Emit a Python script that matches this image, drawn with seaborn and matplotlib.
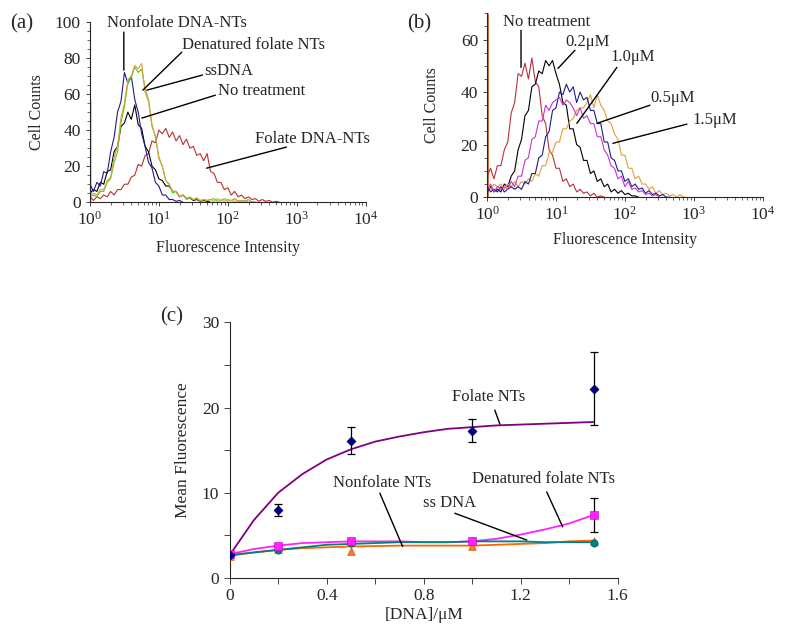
import numpy as np
import pandas as pd
import matplotlib
matplotlib.use("Agg")
import matplotlib.pyplot as plt
import seaborn as sns
from matplotlib.ticker import LogLocator, LogFormatterMathtext, MultipleLocator, NullFormatter

# ---------------- data ----------------
# histogram bins, log10(fluorescence) in 0.05 steps
log_bins = np.round(np.arange(0, 3.0, 0.05), 2)

# (a) cell counts per bin
a_nonfolate = [10, 6, 11, 9, 17, 16, 28, 36, 50, 56, 72, 66, 70, 57, 50, 38, 31, 22, 19, 11,
               9, 4, 4, 1.5, 1.5, 0.5, 1, 0]
a_notreat = [5, 7, 6, 11, 10, 17, 18, 28, 31, 42, 44, 50, 46, 54, 43, 41, 31, 28, 20, 18,
             13, 12, 9, 9, 6, 6, 3, 4, 2, 2.5, 1, 1.5, 0.5, 1, 0.5, 0]
a_denatured = [4, 5, 4, 7, 7, 12, 14, 25, 31, 47, 55, 68, 70, 76, 74, 77, 61, 56, 42, 37,
               24, 20, 12, 10, 6, 6, 3, 4, 2, 3, 1.5, 2.5, 1, 1.5, 1, 1.5, 0.5, 2, 1, 0.5,
               1.5, 1, 0.5, 1, 0.5, 1, 0, 0.5, 0]
a_ssdna = [3, 4, 3, 6, 6, 11, 13, 22, 28, 44, 53, 66, 69, 75, 72, 74, 63, 57, 43, 36,
           25, 20, 12, 10, 5, 6, 3, 4, 1.5, 2.5, 1.5, 2, 0.5, 1.5, 1, 1.5, 2, 0.5, 1, 2,
           0.5, 1, 2, 0.5, 1, 0.5, 1.5, 0, 0]
a_folate = [3, 1, 3, 2, 4, 3, 6, 4, 7, 7, 10, 10, 14, 15, 21, 20, 26, 27, 34, 33,
            40, 38, 41, 36, 39, 34, 37, 32, 35, 30, 31, 26, 27, 23, 27, 17, 16, 11, 11, 7,
            8, 4, 6, 3, 4, 2, 3, 1.5, 2, 0.5, 1.5, 0.5, 1, 0, 0.5, 0]
a_spikes = {"orange": 100, "red": 57}

# (b) cell counts per bin
b_notreat = [8, 11, 7, 12, 12, 18, 21, 32, 36, 47, 46, 51, 45, 53, 44, 42, 31, 28, 18, 16,
             11, 11, 6, 7, 4, 5, 2, 3, 1.5, 2, 0.5, 1.5, 0, 0.5, 0]
b_02 = [2, 4, 2, 3, 2, 5, 4, 8, 10, 18, 22, 31, 33, 42, 43, 48, 47, 52, 50, 52,
        47, 43, 36, 35, 26, 26, 20, 19, 14, 14, 9, 10, 6, 7, 4, 5, 2, 3, 1.5, 2.5,
        1, 1.5, 0.5, 0.5, 0]
b_05 = [4, 2, 3, 2, 4, 2, 3, 4, 3, 4, 3, 6, 5, 9, 9, 15, 16, 23, 25, 33,
        34, 40, 39, 43, 40, 42, 36, 40, 37, 38, 33, 33, 28, 28, 21, 21, 15, 14, 10, 10,
        6, 7, 4, 5, 3, 3.5, 1.5, 2.5, 1, 1.5, 0.5, 1, 0, 0]
b_10 = [3, 5, 2, 4, 3, 4, 3, 6, 4, 8, 8, 14, 15, 22, 23, 29, 29, 35, 33, 36,
        37, 38, 35, 37, 36, 34, 31, 34, 30, 31, 28, 28, 23, 23, 18, 16, 12, 11, 7, 8,
        4, 6, 3, 3.5, 2, 2.5, 1, 1.5, 0.5, 1, 0]
b_15 = [5, 3, 5, 4, 5, 3, 5, 4, 6, 4, 6, 5, 7, 6, 9, 8, 12, 12, 17, 17,
        21, 21, 26, 26, 29, 30, 33, 34, 34, 36, 39, 34, 39, 35, 33, 29, 28, 24, 22, 16,
        16, 11, 11, 7, 8, 5, 5, 3, 4, 1.5, 2.5, 1, 1.5, 0.5, 1, 0, 1, 0, 0]
b_spike = 70

# (c) mean fluorescence vs DNA concentration
conc = [0, 0.2, 0.5, 1.0, 1.5]
folate_mean = [2.7, 8.0, 16.1, 17.3, 22.2]
folate_err = [0, 0.7, 1.6, 1.35, 4.3]
denat_mean = [2.8, 3.8, 4.3, 4.3, 7.4]
denat_err = [0, 0, 0, 0, 2.0]
ssdna_mean = [2.7, 3.3, 4.1, 4.3, 4.1]
nonfol_mean = [2.6, 3.4, 3.2, 3.8, 4.4]

# fitted curves
fit_x = [0, 0.1, 0.2, 0.3, 0.4, 0.5, 0.6, 0.7, 0.8, 0.9, 1.0, 1.1, 1.2, 1.3, 1.4, 1.5]
fit_folate = [2.7, 6.8, 10.0, 12.2, 13.9, 15.1, 16.0, 16.6, 17.1, 17.5, 17.7, 17.9, 18.0, 18.1, 18.2, 18.3]
fit_denat = [2.8, 3.4, 3.8, 4.1, 4.2, 4.3, 4.3, 4.3, 4.2, 4.2, 4.3, 4.6, 5.1, 5.7, 6.4, 7.4]
fit_ssdna = [2.7, 3.0, 3.3, 3.6, 3.9, 4.0, 4.1, 4.2, 4.2, 4.2, 4.3, 4.3, 4.3, 4.2, 4.2, 4.2]
fit_nonfol = [2.6, 3.0, 3.3, 3.5, 3.6, 3.7, 3.75, 3.8, 3.8, 3.8, 3.8, 3.9, 4.0, 4.1, 4.3, 4.4]

# ---------------- style ----------------
sns.set_style("ticks")
plt.rcParams["font.family"] = ["Liberation Serif", "DejaVu Serif"]
plt.rcParams["mathtext.fontset"] = "stix"
plt.rcParams["axes.linewidth"] = 0.8

fig = plt.figure(figsize=(7.92, 6.3), dpi=100)
ax_a = fig.add_axes([0.1136, 0.679, 0.348, 0.286])
ax_b = fig.add_axes([0.615, 0.687, 0.348, 0.292])
ax_c = fig.add_axes([0.290, 0.0825, 0.490, 0.406])

FS = 12
line_kw = dict(arrowstyle="-", color="black", lw=1.0, shrinkA=0, shrinkB=0)


def hist_curve(ax, counts, color):
    df = pd.DataFrame({"x": 10 ** log_bins[:len(counts)], "y": counts})
    sns.lineplot(data=df, x="x", y="y", ax=ax, color=color, lw=0.8,
                 estimator=None, sort=False)


def style_hist(ax, ymax, ystep, ylab_x, xlab_y):
    ax.set_xscale("log")
    ax.set_xlim(1, 1e4)
    ax.set_ylim(0, ymax)
    ax.xaxis.set_major_locator(LogLocator(base=10, numticks=10))
    ax.xaxis.set_major_formatter(LogFormatterMathtext())
    ax.xaxis.set_minor_locator(LogLocator(base=10, subs=np.arange(2, 10), numticks=10))
    ax.xaxis.set_minor_formatter(NullFormatter())
    ax.yaxis.set_major_locator(MultipleLocator(ystep))
    ax.yaxis.set_minor_locator(MultipleLocator(ystep / 4))
    ax.tick_params(labelsize=12.5, length=3, width=0.6)
    ax.tick_params(which="minor", length=2, width=0.5)
    ax.set_xlabel("Fluorescence Intensity", fontsize=11.5)
    ax.set_ylabel("Cell Counts", fontsize=11.5)
    ax.yaxis.set_label_coords(ylab_x, 0.5)
    ax.xaxis.set_label_coords(0.5, xlab_y)
    sns.despine(ax=ax)


def label(ax, text, pos, start, end):
    # text left-anchored at pos, pointer line from start to end (data coords)
    ax.text(pos[0], pos[1], text, fontsize=FS, va="center", ha="left", clip_on=False)
    ax.annotate("", xy=end, xytext=start, arrowprops=line_kw, annotation_clip=False)


# ---------------- (a) ----------------
ax_a.vlines(1.0, 0, a_spikes["orange"], color="#e08a30", lw=1.4)
ax_a.vlines(1.0, 0, a_spikes["red"], color="#8b1a1a", lw=1.0)
hist_curve(ax_a, a_folate, "#b83030")
hist_curve(ax_a, a_notreat, "black")
hist_curve(ax_a, a_nonfolate, "#1c1c90")
hist_curve(ax_a, a_ssdna, "#55cc22")
hist_curve(ax_a, a_denatured, "#e0a040")
style_hist(ax_a, 100, 20, -0.163, -0.21)

label(ax_a, "Nonfolate DNA-NTs", (1.76, 99.4), (3.1, 94.4), (3.1, 73.3))
label(ax_a, "Denatured folate NTs", (21.5, 87.2), (21.5, 83.3), (5.85, 62.2))
label(ax_a, "ssDNA", (46, 72.8), (43, 70.6), (6.7, 62.2))
label(ax_a, "No treatment", (71, 61.7), (66, 59.4), (5.66, 46.7))
label(ax_a, "Folate DNA-NTs", (252, 35), (710, 30.6), (49.3, 18.9))
fig.text(0.013, 0.962, "(a)", fontsize=15, va="center")

# ---------------- (b) ----------------
ax_b.vlines(1.0, 0, b_spike, color="#d8602a", lw=2.0)
hist_curve(ax_b, b_notreat, "#b83040")
hist_curve(ax_b, b_02, "black")
hist_curve(ax_b, b_15, "#e0a040")
hist_curve(ax_b, b_05, "#1c1c90")
hist_curve(ax_b, b_10, "#cc33cc")
style_hist(ax_b, 70, 20, -0.170, -0.19)

label(ax_b, "No treatment", (1.71, 66.5), (3.11, 63.5), (3.11, 49.4))
label(ax_b, "0.2μM", (13.5, 59), (18.8, 55.9), (10.7, 49))
label(ax_b, "1.0μM", (60.8, 53.2), (76.6, 49.4), (20.1, 28.1))
label(ax_b, "0.5μM", (231, 37.6), (231, 35), (39.3, 28.1))
label(ax_b, "1.5μM", (968, 29.3), (794, 27.8), (67, 20.5))
fig.text(0.514, 0.962, "(b)", fontsize=15, va="center")

# ---------------- (c) ----------------
fits = pd.DataFrame({"x": fit_x * 4,
                     "y": fit_folate + fit_denat + fit_nonfol + fit_ssdna,
                     "s": ["folate"] * 16 + ["denat"] * 16 + ["nonfol"] * 16 + ["ssdna"] * 16})
fit_colors = {"folate": "#800080", "denat": "#ff22ff", "nonfol": "#ff6600", "ssdna": "#008080"}
sns.lineplot(data=fits, x="x", y="y", hue="s", palette=fit_colors, ax=ax_c,
             lw=1.3, legend=False, estimator=None, sort=False)

ax_c.errorbar(conc, folate_mean, yerr=folate_err, fmt="none", ecolor="black",
              elinewidth=0.9, capsize=3, capthick=0.9)
ax_c.errorbar(conc, denat_mean, yerr=denat_err, fmt="none", ecolor="black",
              elinewidth=0.9, capsize=3, capthick=0.9)
sns.scatterplot(x=conc, y=nonfol_mean, marker="^", color="#f08020", s=30,
                edgecolor="#c05010", ax=ax_c, zorder=5)
sns.scatterplot(x=conc, y=ssdna_mean, marker="o", color="#008080", s=28,
                edgecolor="#006060", ax=ax_c, zorder=5)
sns.scatterplot(x=conc, y=denat_mean, marker="s", color="#ff22ff", s=26,
                edgecolor="#cc00cc", ax=ax_c, zorder=6)
sns.scatterplot(x=conc, y=folate_mean, marker="D", color="#000080", s=22,
                edgecolor="#000060", ax=ax_c, zorder=6)

ax_c.set_xlim(0, 1.6)
ax_c.set_ylim(0, 30)
ax_c.xaxis.set_major_locator(MultipleLocator(0.4))
ax_c.xaxis.set_major_formatter(plt.FuncFormatter(lambda v, p: "0" if v == 0 else f"{v:.1f}"))
ax_c.xaxis.set_minor_locator(MultipleLocator(0.2))
ax_c.yaxis.set_major_locator(MultipleLocator(10))
ax_c.yaxis.set_minor_locator(MultipleLocator(5))
ax_c.tick_params(labelsize=12.5, length=4, width=0.6)
ax_c.tick_params(which="minor", length=4, width=0.6)
ax_c.set_xlabel("[DNA]/μM", fontsize=12.5, labelpad=2)
ax_c.set_ylabel("Mean Fluorescence", fontsize=12.5, labelpad=8)
sns.despine(ax=ax_c)

label(ax_c, "Folate NTs", (0.915, 21.2), (1.093, 19.7), (1.114, 18.05))
label(ax_c, "Nonfolate NTs", (0.425, 11.1), (0.619, 9.96), (0.713, 3.7))
label(ax_c, "ss DNA", (0.796, 8.8), (0.928, 7.6), (1.225, 4.45))
label(ax_c, "Denatured folate NTs", (0.998, 11.6), (1.307, 10.1), (1.373, 6.0))
fig.text(0.202, 0.497, "(c)", fontsize=15, va="center")

fig.savefig("out.png", dpi=100)
